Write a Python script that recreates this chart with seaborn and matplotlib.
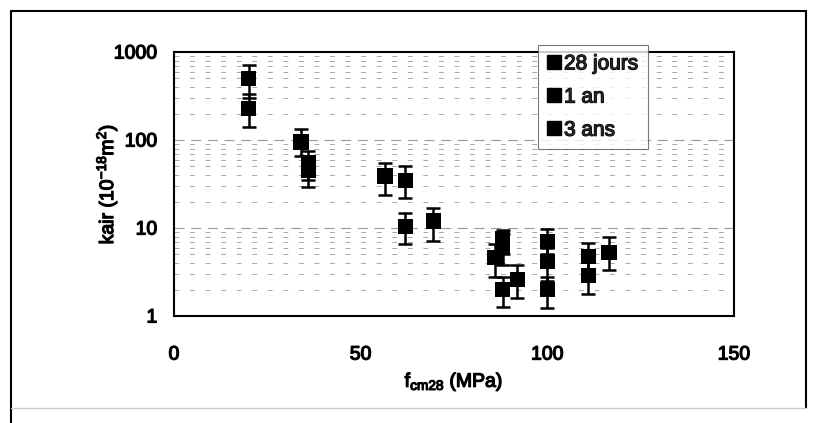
import numpy as np
import pandas as pd
import matplotlib
matplotlib.use("Agg")
import matplotlib.pyplot as plt
import matplotlib.patheffects as pe
from matplotlib.lines import Line2D
import seaborn as sns

# ---- data ----
series_names = ["28 jours", "1 an", "3 ans"]

x_28j = [20, 34, 56.5, 62, 69.5, 86, 88, 100, 111, 116.5]
y_28j = [500, 95, 39, 35, 12, 4.6, 7.5, 7.0, 4.7, 5.3]
lo_28j = [300, 65, 24, 22, 7.2, 2.8, 5.0, 5.0, 3.0, 3.3]
hi_28j = [720, 135, 55, 50, 17, 6.5, 9.5, 9.8, 6.8, 8.0]

x_1an = [20, 36, 62, 88, 92, 100, 111]
y_1an = [230, 55, 10.5, 6.0, 2.6, 4.2, 2.9]
lo_1an = [140, 35, 6.5, 3.8, 1.6, 2.5, 1.8]
hi_1an = [330, 75, 15, 8.5, 3.8, 6.0, 4.2]

x_3ans = [36, 88, 100]
y_3ans = [45, 2.0, 2.0]
lo_3ans = [29, 1.25, 1.22]
hi_3ans = [60, 2.8, 2.8]

x_ticks = [0, 50, 100, 150]
y_ticks = [1, 10, 100, 1000]

frames = []
for name, xs, ys, lo, hi in [("28 jours", x_28j, y_28j, lo_28j, hi_28j),
                             ("1 an", x_1an, y_1an, lo_1an, hi_1an),
                             ("3 ans", x_3ans, y_3ans, lo_3ans, hi_3ans)]:
    frames.append(pd.DataFrame({"x": xs, "y": ys, "lo": lo, "hi": hi, "serie": name}))
df = pd.concat(frames, ignore_index=True)

sns.set_theme(style="white")
plt.rcParams["font.family"] = ["Liberation Sans Narrow", "Liberation Sans", "DejaVu Sans"]
plt.rcParams["mathtext.fontset"] = "custom"
plt.rcParams["mathtext.rm"] = "Liberation Sans"
plt.rcParams["mathtext.it"] = "Liberation Sans"
plt.rcParams["mathtext.default"] = "regular"

heavy = [pe.withStroke(linewidth=0.9, foreground="black")]

fig = plt.figure(figsize=(8.16, 4.23), dpi=100)
ax = fig.add_axes([174 / 816, 1 - 316 / 423, 560 / 816, 264 / 423])

# error bars
ax.errorbar(df["x"], df["y"],
            yerr=[df["y"] - df["lo"], df["hi"] - df["y"]],
            fmt="none", ecolor="black", elinewidth=1.8, capsize=5, capthick=1.8, zorder=2)

sns.scatterplot(data=df, x="x", y="y", hue="serie", hue_order=series_names,
                palette=["black"] * 3, marker="s", s=120, edgecolor="black",
                linewidth=0, ax=ax, legend=False, zorder=3)

ax.set_yscale("log")
ax.set_xlim(0, 150)
ax.set_ylim(1, 1000)
ax.set_xticks(x_ticks)
ax.set_xticklabels([str(v) for v in x_ticks])
ax.set_yticks(y_ticks)
ax.set_yticklabels([str(v) for v in y_ticks])
ax.minorticks_off()
ax.tick_params(axis="x", length=0, pad=22, labelsize=14, colors="black")
ax.tick_params(axis="y", length=0, pad=12, labelsize=14, colors="black")
for t in ax.get_xticklabels() + ax.get_yticklabels():
    t.set_path_effects(heavy)

# faint dashed scan-like grid lines
for dec in [1, 10, 100]:
    for m in range(2, 10):
        ax.axhline(dec * m, color="#a8a8a8", lw=0.7, ls=(0, (5, 11)), zorder=0)
for v in [10, 100]:
    ax.axhline(v, color="#999999", lw=0.8, ls=(0, (9, 6)), zorder=0)

for sp in ax.spines.values():
    sp.set_color("black")
    sp.set_linewidth(1.5)

ax.set_xlabel("f$_{cm28}$ (MPa)", fontsize=14, labelpad=6, color="black")
ax.set_ylabel("kair (10$^{-18}$m$^{2}$)", fontsize=14, color="black")
ax.yaxis.set_label_coords((120 - 174) / 560, 0.5)
ax.xaxis.label.set_path_effects(heavy)
ax.yaxis.label.set_path_effects(heavy)

handles = [Line2D([0], [0], marker="s", color="black", ls="none", markersize=10)
           for _ in series_names]
leg = ax.legend(handles, series_names, loc="upper left",
                bbox_to_anchor=(538 / 816, 1 - 45 / 423), bbox_transform=fig.transFigure,
                frameon=True, fancybox=False, fontsize=15, handlelength=0.6,
                handletextpad=0.2, labelspacing=0.68, borderpad=0.45,
                borderaxespad=0)
leg.get_frame().set_edgecolor("#555555")
leg.get_frame().set_linewidth(0.8)
for t in leg.get_texts():
    t.set_path_effects(heavy)
leg.set_zorder(5)

# outer frame
fig.add_artist(Line2D([11 / 816, 11 / 816], [0, 1 - 11 / 423], color="black", lw=1.5, transform=fig.transFigure))
fig.add_artist(Line2D([11 / 816, 806 / 816], [1 - 11 / 423, 1 - 11 / 423], color="black", lw=1.5, transform=fig.transFigure))
fig.add_artist(Line2D([806 / 816, 806 / 816], [1 - 11 / 423, 1 - 408 / 423], color="black", lw=1.5, transform=fig.transFigure))
fig.add_artist(Line2D([11 / 816, 806 / 816], [1 - 408 / 423, 1 - 408 / 423], color="#cccccc", lw=1.0, transform=fig.transFigure))

fig.savefig("out.png", dpi=100)
